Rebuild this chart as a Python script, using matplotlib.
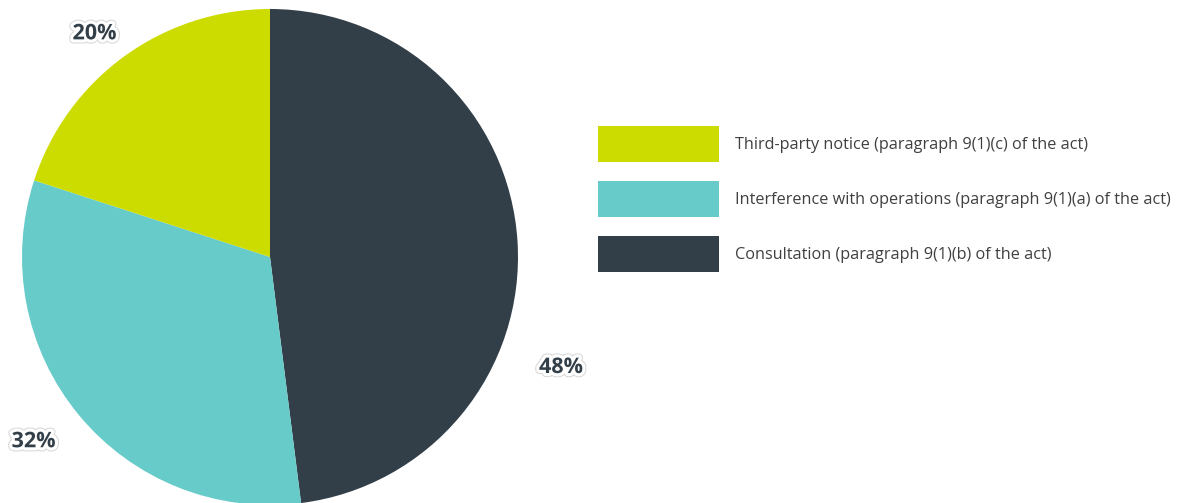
import matplotlib
matplotlib.use("Agg")
import matplotlib.pyplot as plt
import matplotlib.patheffects as pe
import numpy as np

categories = ["Consultation (paragraph 9(1)(b) of the act)",
              "Interference with operations (paragraph 9(1)(a) of the act)",
              "Third-party notice (paragraph 9(1)(c) of the act)"]
values = [48, 32, 20]
colors = ["#333F48", "#66CBC9", "#CDDC00"]
pct_labels = ["48%", "32%", "20%"]
# label placement (angle in degrees, distance in radii)
label_angles = [-20.8, -142.0, 128.2]
label_dist = [1.255, 1.21, 1.145]

W, H = 1179, 503
fig = plt.figure(figsize=(W / 100, H / 100), dpi=100)
plt.rcParams['font.family'] = ['Open Sans', 'DejaVu Sans']

cx, cy, r = 270, 257, 248
ax = fig.add_axes([(cx - r) / W, (H - cy - r) / H, 2 * r / W, 2 * r / H])
wedges, _ = ax.pie(values, colors=colors, startangle=90, counterclock=False,
                   radius=1, wedgeprops=dict(linewidth=0))
ax.set_xlim(-1, 1)
ax.set_ylim(-1, 1)
ax.set_aspect('equal')
ax.axis('off')

for lab, ang, d in zip(pct_labels, label_angles, label_dist):
    a = np.deg2rad(ang)
    ax.text(d * np.cos(a), d * np.sin(a), lab, ha='center', va='center',
            fontsize=15.5, fontweight='bold', color='#333F48', clip_on=False,
            path_effects=[pe.Stroke(linewidth=6, foreground='#d8d8d8'),
                          pe.Stroke(linewidth=4.5, foreground='white'),
                          pe.Normal()])

order = [2, 1, 0]
fs = 11.7
fpx = fs * 100 / 72
patch_h = 36.0
hh = (patch_h / fpx - 0.245) / 0.65
leg = fig.legend([wedges[i] for i in order], [categories[i] for i in order],
                 loc='upper left', bbox_to_anchor=(598 / W, 1 - 126 / H),
                 frameon=False, fontsize=fs, borderpad=0, borderaxespad=0,
                 handlelength=121 / fpx, handleheight=hh,
                 labelspacing=(55 - patch_h) / fpx, handletextpad=16 / fpx)
for t in leg.get_texts():
    t.set_color('#404040')

fig.savefig("out.png", dpi=100)
